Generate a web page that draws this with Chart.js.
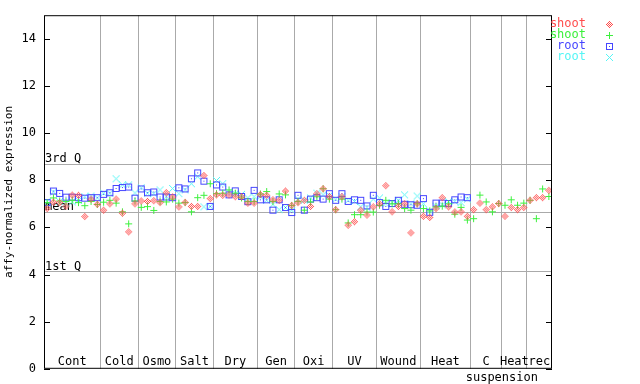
<!DOCTYPE html>
<html>
<head>
<meta charset="utf-8">
<script src="https://cdn.jsdelivr.net/npm/chart.js@4"></script>
<style>
  body { margin: 0; background: #fff; }
  canvas { display: block; }
</style>
</head>
<body>
<canvas id="chart" width="640" height="384"></canvas>
<script>
// groups along the x axis (number of samples in each)
const groupLabels = ['Cont', 'Cold', 'Osmo', 'Salt', 'Dry', 'Gen', 'Oxi', 'UV', 'Wound', 'Heat', 'C', 'Heat', 'rec'];
const groupSizes = [9, 6, 6, 6, 7, 6, 6, 7, 7, 8, 5, 4, 4];
const yTicks = [0, 2, 4, 6, 8, 10, 12, 14];

// summary lines
const q3Value = 8.69;
const meanValue = 6.64;
const q1Value = 4.13;

// series values, one per sample
const shootRed = [6.8, 7.07, 7.05, 6.9, 7.37, 7.36, 6.46, 7.2, 6.98, 6.73,
  7.0, 7.2, 6.6, 5.81, 7.0, 7.12, 7.1, 7.13, 7.05, 7.47,
  7.29, 6.87, 7.06, 6.89, 6.89, 8.2, 7.22, 7.38, 7.36, 7.38,
  7.3, 7.3, 7.03, 7.03, 7.39, 7.36, 7.17, 7.15, 7.54, 6.93,
  7.05, 7.15, 6.89, 7.43, 7.64, 7.3, 6.75, 7.3, 6.09, 6.24,
  6.73, 6.52, 6.87, 7.0, 7.77, 6.66, 6.89, 7.0, 5.77, 7.0,
  6.47, 6.42, 6.8, 7.26, 6.87, 6.65, 6.66, 6.47, 6.75, 7.03,
  6.75, 6.87, 7.01, 6.47, 6.84, 6.75, 6.84, 7.15, 7.26, 7.26, 7.57];
const shootGreen = [7.05, 7.25, 7.12, 7.1, 7.15, 7.05, 6.92, 7.1, 6.97, 7.07,
  7.15, 7.03, 6.66, 6.15, 7.12, 6.85, 6.88, 6.72, 7.1, 7.08,
  7.2, 7.03, 7.05, 6.66, 7.26, 7.36, 7.85, 7.43, 7.45, 7.59,
  7.45, 7.25, 7.1, 7.1, 7.42, 7.52, 7.1, 7.42, 7.38, 6.93,
  7.1, 6.73, 7.08, 7.3, 7.64, 7.2, 6.75, 7.2, 6.19, 6.54,
  6.54, 6.65, 6.65, 6.94, 7.15, 7.0, 7.0, 6.8, 6.73, 7.0,
  6.8, 6.7, 6.87, 6.9, 7.0, 6.56, 6.85, 6.31, 6.37, 7.37,
  7.08, 6.66, 7.01, 6.94, 7.17, 6.94, 7.03, 7.15, 6.37, 7.63, 7.31];
const rootBlue = [7.05, 7.54, 7.44, 7.28, 7.28, 7.26, 7.24, 7.26, 7.26, 7.4,
  7.47, 7.65, 7.69, 7.71, 7.24, 7.63, 7.47, 7.5, 7.29, 7.29,
  7.26, 7.68, 7.63, 8.06, 8.31, 7.96, 6.89, 7.8, 7.71, 7.38,
  7.55, 7.31, 7.09, 7.57, 7.17, 7.17, 6.73, 7.17, 6.84, 6.63,
  7.36, 6.73, 7.2, 7.26, 7.2, 7.43, 7.15, 7.43, 7.1, 7.17,
  7.15, 6.91, 7.36, 7.05, 6.89, 7.01, 7.15, 6.98, 6.96, 6.94,
  7.22, 6.64, 7.03, 7.03, 7.01, 7.17, 7.29, 7.26];
const rootCyan = [7.1, 7.5, 7.1, 7.0, 7.08, 7.15, 7.3, 7.33, 7.25, 7.45,
  7.45, 8.06, 7.8, 7.8, 7.46, 7.68, 7.45, 7.43, 7.59, 7.3,
  7.65, 7.43, 7.59, 7.85, 8.15, 6.87, 6.89, 7.99, 7.85, 7.5,
  7.43, 7.4, 7.25, 7.3, 7.3, 7.15, 6.98, 6.75, 6.84, 6.73,
  7.2, 7.15, 7.25, 7.45, 7.38, 7.35, 7.2, 7.3, 7.15, 7.1,
  6.87, 6.85, 7.2, 7.25, 7.0, 7.05, 7.15, 7.38, 7.0, 7.33,
  7.0, 6.7, 6.9, 6.95, 7.1, 7.1, 7.05, 7.2];

const sampleCount = groupSizes.reduce((a, b) => a + b, 0);
const boundaries = [];
{
  let acc = 0;
  groupSizes.forEach((n) => { acc += n; boundaries.push(acc); });
}

const RED = '#ff4d4d';
const GREEN = '#3df03d';
const BLUE = '#4646ff';
const CYAN = '#55f5f5';
const FONT = '12px "DejaVu Sans Mono", monospace';

// little pixel markers like the original plot
function makeMarker(kind, color) {
  const c = document.createElement('canvas');
  c.width = 9; c.height = 9;
  const g = c.getContext('2d');
  g.fillStyle = color;
  for (let dy = -3; dy <= 3; dy++) {
    for (let dx = -3; dx <= 3; dx++) {
      const d = Math.abs(dx) + Math.abs(dy);
      let on = false;
      if (kind === 'diamond') on = d === 3 || d === 1;
      if (kind === 'plus') on = dx === 0 || dy === 0;
      if (kind === 'square') on = Math.abs(dx) === 3 || Math.abs(dy) === 3 || (dx === 0 && dy === 0);
      if (kind === 'x') on = Math.abs(dx) === Math.abs(dy);
      if (on) g.fillRect(4 + dx, 4 + dy, 1, 1);
    }
  }
  return c;
}

const series = [
  { label: 'shoot', values: shootRed, color: RED, marker: makeMarker('diamond', RED) },
  { label: 'shoot', values: shootGreen, color: GREEN, marker: makeMarker('plus', GREEN) },
  { label: 'root', values: rootBlue, color: BLUE, marker: makeMarker('square', BLUE) },
  { label: 'root', values: rootCyan, color: CYAN, marker: makeMarker('x', CYAN) },
];

const decorations = {
  id: 'decorations',
  beforeDatasetsDraw(chart) {
    const { ctx, chartArea: a, scales: { x, y } } = chart;
    ctx.save();
    ctx.strokeStyle = '#aaaaaa';
    ctx.lineWidth = 1;
    [q3Value, meanValue, q1Value].forEach((v) => {
      const py = Math.round(y.getPixelForValue(v)) + 0.5;
      ctx.beginPath();
      ctx.moveTo(a.left, py);
      ctx.lineTo(a.right, py);
      ctx.stroke();
    });
    ctx.font = FONT;
    ctx.fillStyle = '#000';
    ctx.textBaseline = 'bottom';
    ctx.textAlign = 'left';
    ctx.fillText('3rd Q', a.left + 1, y.getPixelForValue(q3Value) + 1);
    ctx.fillText('mean', a.left + 1, y.getPixelForValue(meanValue) + 1);
    ctx.fillText('1st Q', a.left + 1, y.getPixelForValue(q1Value) + 1);

    // group names along the bottom
    ctx.textAlign = 'center';
    let start = 0;
    groupSizes.forEach((n, i) => {
      const cx = x.getPixelForValue(start + n / 2);
      ctx.fillText(groupLabels[i], cx, a.bottom - 1);
      start += n;
    });
    ctx.textBaseline = 'top';
    ctx.fillText('suspension', x.getPixelForValue(boundaries[10]), a.bottom + 3);
    ctx.restore();
  },
  afterDraw(chart) {
    const { ctx, chartArea: a, scales: { y } } = chart;
    ctx.save();
    ctx.strokeStyle = '#000';
    ctx.lineWidth = 1;
    ctx.strokeRect(a.left + 0.5, a.top + 0.5, a.right - a.left - 1, a.bottom - a.top - 1);
    yTicks.forEach((v) => {
      const py = Math.round(y.getPixelForValue(v)) + 0.5;
      ctx.beginPath();
      ctx.moveTo(a.left, py);
      ctx.lineTo(a.left + 6, py);
      ctx.moveTo(a.right - 6, py);
      ctx.lineTo(a.right, py);
      ctx.stroke();
    });
    // legend on the right
    ctx.font = FONT;
    ctx.textBaseline = 'middle';
    ctx.textAlign = 'right';
    series.forEach((s, i) => {
      const ly = 24 + i * 11;
      ctx.fillStyle = s.color;
      ctx.fillText(s.label, 586, ly);
      ctx.drawImage(s.marker, 605, ly - 4);
    });
    ctx.restore();
  },
};

new Chart(document.getElementById('chart'), {
  type: 'scatter',
  plugins: [decorations],
  data: {
    datasets: series.map((s) => ({
      label: s.label,
      data: s.values.map((v, i) => ({ x: i + 0.5, y: v })),
      pointStyle: s.marker,
      pointRadius: 4,
      borderColor: s.color,
      backgroundColor: s.color,
    })),
  },
  options: {
    responsive: false,
    animation: false,
    layout: { padding: { top: 14, right: 88, left: 0, bottom: 0 } },
    plugins: { legend: { display: false }, tooltip: { enabled: false } },
    scales: {
      x: {
        type: 'linear',
        min: 0,
        max: sampleCount,
        afterBuildTicks: (s) => { s.ticks = boundaries.slice(0, -1).map((v) => ({ value: v })); },
        afterFit: (s) => { s.height = 14; },
        grid: { color: '#aaaaaa', drawTicks: false },
        border: { display: false },
        ticks: { display: false },
      },
      y: {
        min: 0,
        max: 15,
        afterBuildTicks: (s) => { s.ticks = yTicks.map((v) => ({ value: v })); },
        afterFit: (s) => { s.width = 44; },
        grid: { display: false, drawTicks: false },
        border: { display: false },
        ticks: { color: '#000', font: { family: 'DejaVu Sans Mono', size: 12 }, padding: 8 },
        title: {
          display: true,
          text: 'affy-normalized expression',
          color: '#000',
          font: { family: 'DejaVu Sans Mono', size: 11 },
          padding: { top: 3, bottom: 0 },
        },
      },
    },
  },
});
</script>
</body>
</html>
